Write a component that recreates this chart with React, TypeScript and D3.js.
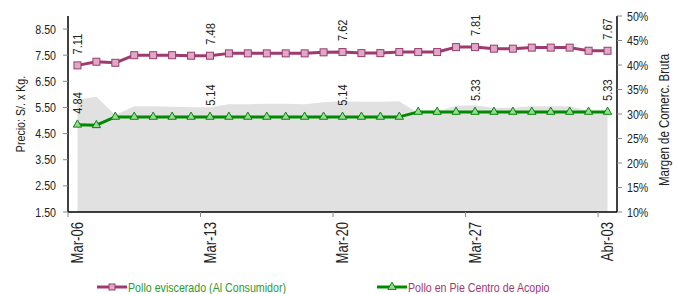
import React from 'react';
import * as d3 from 'd3';

// Dimensiones del gráfico
const W = 673;
const H = 294;
const margin = { top: 16, right: 56, bottom: 82, left: 68 };
const innerRight = W - margin.right;
const innerBottom = H - margin.bottom;

// No hay fuente "narrow": se comprime Liberation Sans horizontalmente
const FONT = "'Liberation Sans', Arial, sans-serif";
const SQUEEZE = 0.82;

// Días (categorías)
const days = [
  'Mar-06', 'Mar-07', 'Mar-08', 'Mar-09', 'Mar-10', 'Mar-11', 'Mar-12',
  'Mar-13', 'Mar-14', 'Mar-15', 'Mar-16', 'Mar-17', 'Mar-18', 'Mar-19',
  'Mar-20', 'Mar-21', 'Mar-22', 'Mar-23', 'Mar-24', 'Mar-25', 'Mar-26',
  'Mar-27', 'Mar-28', 'Mar-29', 'Mar-30', 'Mar-31', 'Abr-01', 'Abr-02',
  'Abr-03',
];
const tickDays = ['Mar-06', 'Mar-13', 'Mar-20', 'Mar-27', 'Abr-03'];

// Precio pollo eviscerado (al consumidor), S/. x Kg.
const eviscerado = [
  7.11, 7.25, 7.21, 7.50, 7.50, 7.50, 7.48, 7.48, 7.57, 7.57, 7.57, 7.57, 7.57, 7.61,
  7.62, 7.58, 7.58, 7.62, 7.62, 7.62, 7.81, 7.81, 7.75, 7.75, 7.79, 7.79, 7.79, 7.67,
  7.67,
];
// Precio pollo en pie (centro de acopio), S/. x Kg.
const enPie = [
  4.84, 4.82, 5.14, 5.14, 5.14, 5.14, 5.14, 5.14, 5.14, 5.14, 5.14, 5.14, 5.14, 5.14,
  5.14, 5.14, 5.14, 5.14, 5.33, 5.33, 5.33, 5.33, 5.33, 5.33, 5.33, 5.33, 5.33, 5.33,
  5.33,
];
// Margen de comercialización bruta (%)
const margen = [
  32.9, 33.5, 29.8, 31.6, 31.6, 31.5, 31.4, 31.4, 32.0, 32.0, 32.1, 32.1, 32.0, 32.4,
  32.6, 32.5, 32.5, 32.6, 30.2, 30.5, 31.7, 31.8, 31.3, 31.3, 31.6, 31.6, 31.6, 30.6,
  30.6,
];

const priceTicks = [1.5, 2.5, 3.5, 4.5, 5.5, 6.5, 7.5, 8.5];
const pctTicks = [10, 15, 20, 25, 30, 35, 40, 45, 50];

const PINK = '#9e3a6e';
const PINK_FILL = '#dcaac6';
const GREEN = '#008a00';
const GREEN_FILL = '#9cd69c';
const GRAY = '#e1e1e1';

// Texto comprimido (rotación opcional)
const NText = ({ x, y, rot = 0, anchor = 'start', size = 13, fill = '#222', children }: any) => (
  <text
    transform={`translate(${x},${y}) rotate(${rot}) scale(${SQUEEZE},1)`}
    textAnchor={anchor}
    dy="0.35em"
    fontSize={size}
    fill={fill}
  >
    {children}
  </text>
);

const App = () => {
  const x = d3.scaleBand<string>().domain(days).range([margin.left, innerRight]).padding(0);
  const cx = (d: string) => (x(d) as number) + x.bandwidth() / 2;
  const y = d3.scaleLinear().domain([1.5, 9.0]).range([innerBottom, margin.top]);
  const y2 = d3.scaleLinear().domain([10, 50]).range([innerBottom, margin.top]);

  const line = d3.line<number>().x((_, i) => cx(days[i])).y(v => y(v));
  const area = d3.area<number>()
    .x((_, i) => cx(days[i]))
    .y0(innerBottom)
    .y1(v => y2(v));

  const tri = d3.symbol().type(d3.symbolTriangle).size(30)();

  const labelIdx = tickDays.map(d => days.indexOf(d));
  const midY = (margin.top + innerBottom) / 2;

  return (
    <svg width={W} height={H} style={{ position: 'absolute', left: 0, top: 0, background: '#fff' }} fontFamily={FONT}>
      {/* área del margen */}
      <path d={area(margen) || ''} fill={GRAY} />

      {/* ejes */}
      <line x1={margin.left} x2={margin.left} y1={margin.top} y2={innerBottom} stroke="#000" strokeWidth={1.5} />
      <line x1={innerRight} x2={innerRight} y1={margin.top} y2={innerBottom} stroke="#000" strokeWidth={1.5} />
      <line x1={margin.left} x2={innerRight} y1={innerBottom} y2={innerBottom} stroke="#000" strokeWidth={1.5} />

      {/* eje izquierdo */}
      {priceTicks.map(t => (
        <g key={'p' + t}>
          <line x1={margin.left - 5} x2={margin.left} y1={y(t)} y2={y(t)} stroke="#888" />
          <NText x={margin.left - 12} y={y(t)} anchor="end">{t.toFixed(2)}</NText>
        </g>
      ))}
      <NText x={20} y={midY} rot={-90} anchor="middle">Precio: S/. x Kg.</NText>

      {/* eje derecho */}
      {pctTicks.map(t => (
        <g key={'r' + t}>
          <line x1={innerRight} x2={innerRight + 5} y1={y2(t)} y2={y2(t)} stroke="#888" />
          <NText x={innerRight + 10} y={y2(t)}>{t}%</NText>
        </g>
      ))}
      <NText x={664} y={midY + 6} rot={-90} anchor="middle" size={14}>Margen de Comerc. Bruta</NText>

      {/* eje x */}
      {tickDays.map(d => (
        <g key={'x' + d}>
          <line x1={x(d)} x2={x(d)} y1={innerBottom} y2={innerBottom + 5} stroke="#888" />
          <NText x={cx(d)} y={innerBottom + 10} rot={-90} anchor="end" size={16}>{d}</NText>
        </g>
      ))}

      {/* series */}
      <path d={line(eviscerado) || ''} fill="none" stroke={PINK} strokeWidth={3} strokeLinejoin="round" />
      {eviscerado.map((v, i) => (
        <rect key={'s' + i} x={cx(days[i]) - 3.5} y={y(v) - 3.5} width={7} height={7}
          fill={PINK_FILL} stroke={PINK} strokeWidth={1} />
      ))}
      <path d={line(enPie) || ''} fill="none" stroke={GREEN} strokeWidth={3} strokeLinejoin="round" />
      {enPie.map((v, i) => (
        <path key={'t' + i} d={tri || ''} transform={`translate(${cx(days[i])},${y(v)})`}
          fill={GREEN_FILL} stroke={GREEN} strokeWidth={1} />
      ))}

      {/* etiquetas de datos */}
      {labelIdx.map(i => (
        <g key={'l' + i}>
          <NText x={cx(days[i])} y={y(eviscerado[i]) - 11} rot={-90} size={13.5}>{eviscerado[i].toFixed(2)}</NText>
          <NText x={cx(days[i])} y={y(enPie[i]) - 11} rot={-90} size={13.5}>{enPie[i].toFixed(2)}</NText>
        </g>
      ))}

      {/* leyenda */}
      <g transform="translate(97,287)">
        <line x1={0} x2={30} y1={0} y2={0} stroke={PINK} strokeWidth={3} />
        <rect x={12} y={-3} width={6} height={6} fill={PINK_FILL} stroke={PINK} strokeWidth={1} />
        <NText x={31} y={0} fill="#2e9a2e">Pollo eviscerado (Al Consumidor)</NText>
      </g>
      <g transform="translate(377,287)">
        <line x1={0} x2={30} y1={0} y2={0} stroke={GREEN} strokeWidth={3} />
        <path d={tri || ''} transform="translate(15,0)" fill={GREEN_FILL} stroke={GREEN} strokeWidth={1} />
        <NText x={31} y={0} fill={PINK}>Pollo en Pie Centro de Acopio</NText>
      </g>
    </svg>
  );
};

export default App;
